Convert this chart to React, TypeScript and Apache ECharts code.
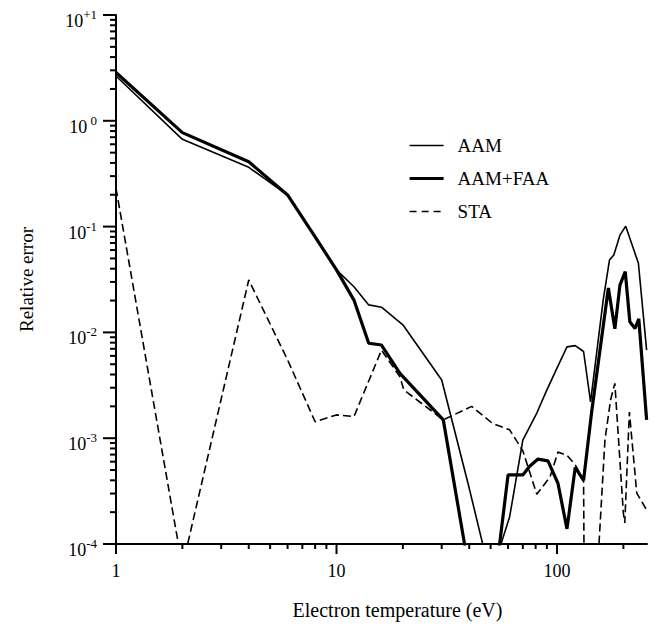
import React, { useEffect, useRef } from "react";
import * as echarts from "echarts";

const X_MIN = 1;
const X_MAX = 256;
const Y_MIN = 1e-4;
const Y_MAX = 10;

const seriesNames = ["AAM", "AAM+FAA", "STA"];

const aamX = [1, 2, 4, 6, 8, 10, 12, 14, 16, 20, 30, 40, 50, 61, 70, 81, 90, 100, 111, 121, 132, 142, 162, 173, 181, 193, 205, 234, 255];
const aamY = [2.65, 0.668, 0.363, 0.199, 0.08, 0.039, 0.027, 0.0182, 0.0173, 0.0118, 0.00355, 3.36e-4, 4.9e-5, 1.81e-4, 9.6e-4, 1.73e-3, 2.86e-3, 4.6e-3, 7.3e-3, 7.5e-3, 6.6e-3, 2.2e-3, 0.0202, 0.0483, 0.054, 0.083, 0.101, 0.045, 6.8e-3];

const faaX = [1, 2, 4, 6, 8, 10, 12, 14, 16, 19.4, 30.5, 40, 50, 60, 70, 75, 82, 91, 101, 111, 121, 132, 144, 171, 183, 193, 204, 214, 226, 235, 255];
const faaY = [2.86, 0.773, 0.41, 0.199, 0.08, 0.039, 0.0202, 7.9e-3, 7.6e-3, 4.1e-3, 1.49e-3, 5.5e-5, 2e-5, 4.5e-4, 4.5e-4, 5.4e-4, 6.35e-4, 6.1e-4, 3.75e-4, 1.39e-4, 5.3e-4, 4.0e-4, 1.85e-3, 0.0263, 0.0108, 0.028, 0.0375, 0.0126, 0.0109, 0.0134, 1.49e-3];

const staX = [1, 2, 4, 6, 8, 10, 12, 16, 19.4, 20.2, 30.5, 41, 51, 61, 70, 81, 93, 101, 111, 121, 132, 133, 150, 165, 175, 183, 200, 203, 213, 230, 255];
const staY = [0.23, 6.1e-5, 0.0313, 5.5e-3, 1.43e-3, 1.66e-3, 1.6e-3, 6.8e-3, 3.8e-3, 2.86e-3, 1.49e-3, 2.0e-3, 1.38e-3, 1.2e-3, 7.6e-4, 2.95e-4, 4.3e-4, 7.4e-4, 6.9e-4, 5.6e-4, 4.0e-4, 3e-5, 3e-5, 9.6e-4, 2.3e-3, 3.3e-3, 1.96e-4, 1.58e-4, 1.77e-3, 3.03e-4, 2.1e-4];

const xMajorTicks = [1, 10, 100];
const xTickLabels = ["1", "10", "100"];
const yMajorTicks = [1e-4, 1e-3, 1e-2, 1e-1, 1, 10];
const yExponentLabels = ["-4", "-3", "-2", "-1", " 0", "+1"];
const xMinorTicks = [2, 3, 4, 5, 6, 7, 8, 9, 20, 30, 40, 50, 60, 70, 80, 90, 200];
const yMinorTicks = [
  2e-4, 3e-4, 4e-4, 5e-4, 6e-4, 7e-4, 8e-4, 9e-4,
  2e-3, 3e-3, 4e-3, 5e-3, 6e-3, 7e-3, 8e-3, 9e-3,
  2e-2, 3e-2, 4e-2, 5e-2, 6e-2, 7e-2, 8e-2, 9e-2,
  0.2, 0.3, 0.4, 0.5, 0.6, 0.7, 0.8, 0.9,
  2, 3, 4, 5, 6, 7, 8, 9,
];

const zip = (xs: number[], ys: number[]) => xs.map((x, i) => [x, ys[i]]);

const FONT = "'Liberation Serif', 'Times New Roman', 'DejaVu Serif', serif";

const nearestIndex = (arr: number[], v: number) => {
  let best = 0;
  for (let i = 1; i < arr.length; i++) {
    if (Math.abs(Math.log10(arr[i]) - Math.log10(v)) < Math.abs(Math.log10(arr[best]) - Math.log10(v))) best = i;
  }
  return Math.abs(Math.log10(arr[best]) - Math.log10(v)) < 0.01 ? best : -1;
};

const THIN = 1.6;
const THICK = 3.2;

const tickBox = (w: number, h: number) => ({
  width: w,
  height: h,
  lineHeight: h,
  fontSize: 1,
  color: "rgba(0,0,0,0)",
  backgroundColor: "#000",
});

export default function App() {
  const ref = useRef<HTMLDivElement>(null);
  useEffect(() => {
    if (!ref.current) return;
    const chart = echarts.init(ref.current, undefined, { renderer: "svg" });

    const xTickAxis = {
      type: "log",
      logBase: 10,
      min: X_MIN,
      max: X_MAX,
      gridIndex: 0,
      position: "bottom",
      axisLine: { show: false },
      axisTick: { show: false },
      splitLine: { show: false },
      axisLabel: {
        show: true,
        margin: 0,
        hideOverlap: false,
        showMinLabel: true,
        showMaxLabel: true,
        customValues: [...xMajorTicks, ...xMinorTicks].sort((a, b) => a - b),
        formatter: (v: number) => (nearestIndex(xMajorTicks, v) >= 0 ? "{M| }" : "{m| }"),
        rich: { M: tickBox(2, 10), m: tickBox(2, 5) },
      },
    };

    const yTickAxis = {
      type: "log",
      logBase: 10,
      min: Y_MIN,
      max: Y_MAX,
      gridIndex: 0,
      position: "left",
      axisLine: { show: false },
      axisTick: { show: false },
      splitLine: { show: false },
      axisLabel: {
        show: true,
        margin: 0,
        hideOverlap: false,
        showMinLabel: true,
        showMaxLabel: true,
        customValues: [...yMajorTicks, ...yMinorTicks].sort((a, b) => a - b),
        formatter: (v: number) => (nearestIndex(yMajorTicks, v) >= 0 ? "{M| }" : "{m| }"),
        rich: { M: tickBox(13, 2), m: tickBox(6, 2) },
      },
    };

    const option: any = {
      animation: false,
      backgroundColor: "#fff",
      grid: { left: 116, top: 15, right: 10, bottom: 87, containLabel: false },
      legend: {
        data: [
          { name: seriesNames[0], lineStyle: { width: THIN } },
          { name: seriesNames[1], lineStyle: { width: THICK } },
          { name: seriesNames[2], lineStyle: { width: THIN, type: [7, 5] } },
        ],
        orient: "vertical",
        left: 403,
        top: 131,
        itemWidth: 34,
        itemHeight: 14,
        itemGap: 14,
        itemStyle: { opacity: 0 },
        textStyle: { fontFamily: FONT, fontSize: 19, color: "#000", padding: [0, 0, 0, 9] },
      },
      xAxis: [
        {
          type: "log",
          logBase: 10,
          min: X_MIN,
          max: X_MAX,
          gridIndex: 0,
          position: "bottom",
          name: "Electron temperature (eV)",
          nameLocation: "middle",
          nameGap: 56,
          nameTextStyle: { fontFamily: FONT, fontSize: 20, color: "#000", padding: [0, 0, 0, 32] },
          axisLine: { show: true, lineStyle: { color: "#000", width: 2 } },
          axisTick: { show: false },
          axisLabel: {
            fontFamily: FONT,
            fontSize: 18,
            color: "#000",
            margin: 18,
            customValues: xMajorTicks,
            formatter: (v: number) => {
              const idx = nearestIndex(xMajorTicks, v);
              return idx >= 0 ? xTickLabels[idx] : "";
            },
          },
          splitLine: { show: false },
        },
        xTickAxis,
      ],
      yAxis: [
        {
          type: "log",
          logBase: 10,
          min: Y_MIN,
          max: Y_MAX,
          gridIndex: 0,
          position: "left",
          name: "Relative error",
          nameLocation: "middle",
          nameGap: 80,
          nameRotate: 90,
          nameTextStyle: { fontFamily: FONT, fontSize: 19, color: "#000" },
          axisLine: { show: true, lineStyle: { color: "#000", width: 2 } },
          axisTick: { show: false },
          axisLabel: {
            margin: 19,
            customValues: yMajorTicks,
            formatter: (v: number) => {
              const idx = nearestIndex(yMajorTicks, v);
              return idx >= 0 ? `{b|10}{s|${yExponentLabels[idx]}}` : "";
            },
            rich: {
              b: { fontFamily: FONT, fontSize: 18, lineHeight: 18, color: "#000", padding: [12, 0, 0, 0] },
              s: { fontFamily: FONT, fontSize: 13, lineHeight: 13, color: "#000", padding: [8, 0, 9, 0] },
            },
          },
          splitLine: { show: false },
        },
        yTickAxis,
      ],
      series: [
        {
          name: "AAM",
          type: "line",
          xAxisIndex: 0,
          yAxisIndex: 0,
          data: zip(aamX, aamY),
          symbol: "none",
          lineStyle: { color: "#000", width: THIN },
          itemStyle: { color: "#000" },
          z: 3,
        },
        {
          name: "AAM+FAA",
          type: "line",
          xAxisIndex: 0,
          yAxisIndex: 0,
          data: zip(faaX, faaY),
          symbol: "none",
          lineStyle: { color: "#000", width: THICK },
          itemStyle: { color: "#000" },
          z: 3,
        },
        {
          name: "STA",
          type: "line",
          xAxisIndex: 0,
          yAxisIndex: 0,
          data: zip(staX, staY),
          symbol: "none",
          lineStyle: { color: "#000", width: THIN, type: [8, 4] },
          itemStyle: { color: "#000" },
          z: 3,
        },
      ],
    };
    chart.setOption(option);
    return () => chart.dispose();
  }, []);
  return <div ref={ref} style={{ width: 657, height: 631, position: "absolute", left: 0, top: 0 }} />;
}
